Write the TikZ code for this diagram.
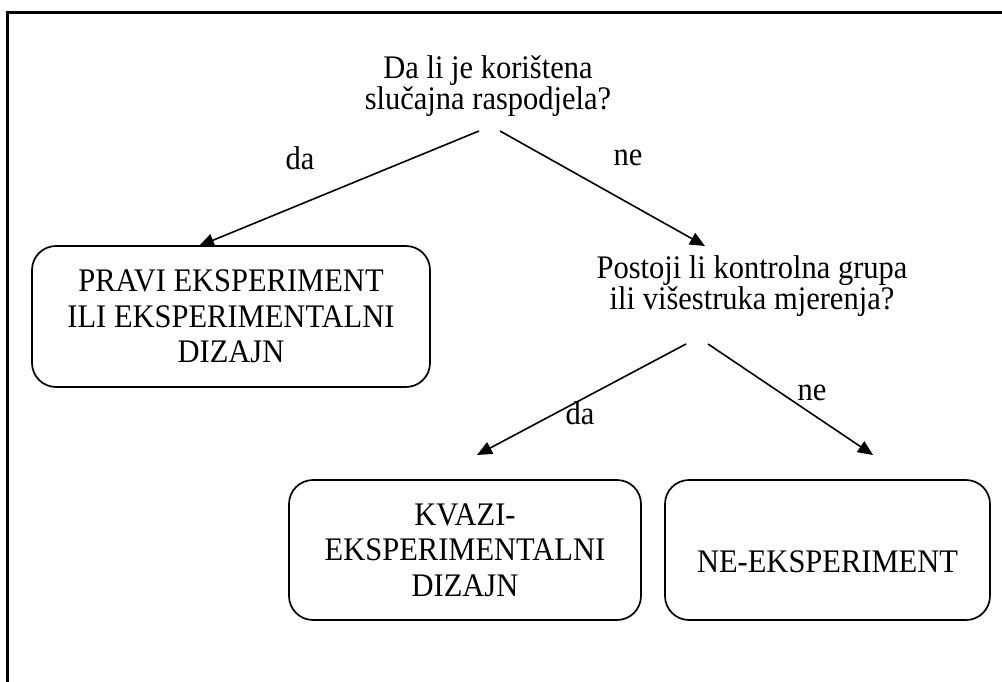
\documentclass[tikz,border=0pt]{standalone}
\usepackage{fontspec}
\usepackage{graphicx}
\setmainfont{Liberation Serif}
\usetikzlibrary{arrows.meta}
\newcommand{\sy}[1]{\scalebox{1}[1.08]{#1}}
\begin{document}
\begin{tikzpicture}[x=1pt,y=-1pt,
  txt/.style={inner sep=0pt,align=center},
  boxnode/.style={draw,line width=1.7pt,rounded corners=24pt,inner sep=0pt,align=center},
  arr/.style={line width=1.6pt,-{Triangle[length=15pt,width=13pt]}},
  lbl/.style={inner sep=0pt,font=\fontsize{30.5}{30}\selectfont}]
\useasboundingbox (0,0) rectangle (1002,682);
% frame
\draw[line width=2.4pt] (7.5,682) -- (7.5,12.5) -- (1002,12.5);
% question nodes
\node[txt,font=\fontsize{30.5}{28}\selectfont] (q1) at (488,86.5) {\sy{Da li je korištena}\\\sy{slučajna raspodjela?}};
\node[txt,font=\fontsize{30.5}{30}\selectfont] (q2) at (752,286) {\sy{Postoji li kontrolna grupa}\\\sy{ili višestruka mjerenja?}};
% boxes
\node[boxnode,minimum width=398pt,minimum height=141pt,font=\fontsize{30.5}{35.5}\selectfont] (b1) at (231,316.5) {\sy{PRAVI EKSPERIMENT}\\\sy{ILI EKSPERIMENTALNI}\\\sy{DIZAJN}};
\node[boxnode,minimum width=352pt,minimum height=140pt,font=\fontsize{30.5}{35.5}\selectfont] (b2) at (465,550) {\sy{KVAZI-}\\\sy{EKSPERIMENTALNI}\\\sy{DIZAJN}};
\node[boxnode,minimum width=325pt,minimum height=140pt,font=\fontsize{30.5}{36}\selectfont,text height=44pt,text depth=0pt] (b3) at (827.5,550) {\sy{NE-EKSPERIMENT}};
% connector ends
\coordinate (s1) at (479,131);
\coordinate (s2) at (500,131);
\coordinate (t1) at (199,246);
\coordinate (t2) at (705,246);
\coordinate (s3) at (686,344);
\coordinate (s4) at (708,344);
\coordinate (t3) at (477,455);
\coordinate (t4) at (873,455);
\draw[arr] (s1) -- (t1);
\draw[arr] (s2) -- (t2);
\draw[arr] (s3) -- (t3);
\draw[arr] (s4) -- (t4);
% labels
\node[lbl] (l1) at (300,158) {\sy{da}};
\node[lbl] (l2) at (628,158) {\sy{ne}};
\node[lbl] (l3) at (580,413) {\sy{da}};
\node[lbl] (l4) at (812,393) {\sy{ne}};
\end{tikzpicture}
\end{document}
